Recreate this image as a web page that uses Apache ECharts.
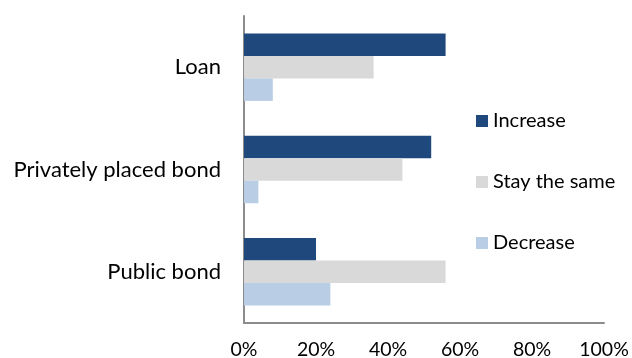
<!DOCTYPE html>
<html>
<head>
<meta charset="utf-8">
<script src="https://cdn.jsdelivr.net/npm/echarts@6/dist/echarts.min.js"></script>
<style>
  html, body { margin: 0; padding: 0; background: #fff; }
  #chart { width: 632px; height: 358px; }
</style>
</head>
<body>
<div id="chart"></div>
<script>
// Expected change in financing by instrument type (share of respondents, %)
const categories = ['Loan', 'Privately placed bond', 'Public bond'];
const seriesNames = ['Increase', 'Stay the same', 'Decrease'];
const increaseValues = [56, 52, 20];
const stayValues = [36, 44, 56];
const decreaseValues = [8, 4, 24];
const seriesColors = ['#1F497D', '#D9D9D9', '#B9CDE5'];

const FONT = 'Lato, "Open Sans", sans-serif';

const chart = echarts.init(document.getElementById('chart'), null, { renderer: 'canvas' });

const valuesBySeries = [increaseValues, stayValues, decreaseValues];

chart.setOption({
  animation: false,
  backgroundColor: '#ffffff',
  textStyle: { fontFamily: FONT },
  grid: {
    left: 244, right: 28, top: 16, bottom: 35,
    containLabel: false,
    outerBoundsMode: 'none'
  },
  legend: {
    orient: 'vertical',
    left: 471,
    top: 105,
    itemWidth: 12,
    itemHeight: 12,
    itemGap: 39,
    icon: 'rect',
    selectedMode: false,
    data: seriesNames,
    textStyle: { fontFamily: FONT, fontSize: 20, color: '#000', lineHeight: 22 }
  },
  xAxis: {
    type: 'value',
    min: 0, max: 100, interval: 20,
    axisLine: { show: true, lineStyle: { color: '#8c8c8c', width: 2 } },
    axisTick: { show: false },
    splitLine: { show: false },
    axisLabel: {
      formatter: '{value}%',
      fontFamily: FONT, fontSize: 19.5, color: '#000', margin: 17
    }
  },
  yAxis: {
    type: 'category',
    data: categories,
    inverse: true,
    axisLine: { show: true, lineStyle: { color: '#8c8c8c', width: 2 } },
    axisTick: { show: false },
    axisLabel: { fontFamily: FONT, fontSize: 22, color: '#000', margin: 23 }
  },
  series: seriesNames.map((name, i) => ({
    name,
    type: 'bar',
    data: valuesBySeries[i],
    barGap: '0%',
    barCategoryGap: '34%',
    itemStyle: { color: seriesColors[i] }
  }))
});
</script>
</body>
</html>
